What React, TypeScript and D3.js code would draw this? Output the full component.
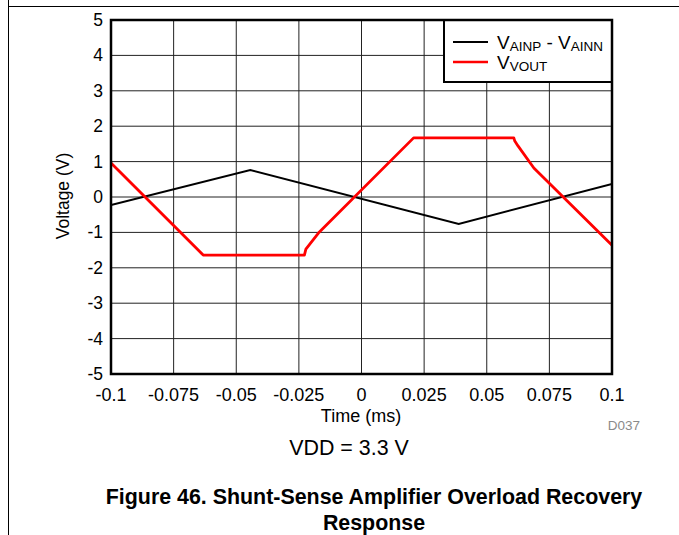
import React from "react";
import * as d3 from "d3";

const blackT = [-0.1, -0.0444, 0.0388, 0.1];
const blackV = [-0.23, 0.76, -0.76, 0.37];

const redT = [-0.1, -0.0632, -0.0228, -0.0222, -0.0172, 0.0208, 0.0608, 0.0612, 0.0624, 0.0688, 0.1];
const redV = [0.96, -1.64, -1.64, -1.47, -1.02, 1.67, 1.67, 1.58, 1.45, 0.82, -1.36];

const xTicks = [-0.1, -0.075, -0.05, -0.025, 0, 0.025, 0.05, 0.075, 0.1];
const xTickLabels = ["-0.1", "-0.075", "-0.05", "-0.025", "0", "0.025", "0.05", "0.075", "0.1"];
const yTicks = [-5, -4, -3, -2, -1, 0, 1, 2, 3, 4, 5];

const W = 679, H = 535;
const L = 111, R = 612, T = 20, B = 374;

export default function App() {
  const x = d3.scaleLinear().domain([-0.1, 0.1]).range([L, R]);
  const y = d3.scaleLinear().domain([-5, 5]).range([B, T]);
  const line = d3.line<[number, number]>().x(d => x(d[0])).y(d => y(d[1]));
  const blackPts = blackT.map((t, i) => [t, blackV[i]] as [number, number]);
  const redPts = redT.map((t, i) => [t, redV[i]] as [number, number]);
  const font = "'Liberation Sans', Arial, sans-serif";
  return (
    <svg width={W} height={H} style={{ position: "absolute", left: 0, top: 0 }} fontFamily={font}>
      <rect x={0} y={0} width={W} height={H} fill="#fff" />
      <line x1={8.5} y1={0} x2={8.5} y2={H} stroke="#000" strokeWidth={1} />
      <line x1={8} y1={6.5} x2={W} y2={6.5} stroke="#000" strokeWidth={1} />
      <defs>
        <clipPath id="plot"><rect x={L} y={T} width={R - L} height={B - T} /></clipPath>
      </defs>
      {xTicks.slice(1, -1).map((t, i) => (
        <line key={"gx" + i} x1={x(t)} x2={x(t)} y1={T} y2={B} stroke="#222" strokeWidth={1} />
      ))}
      {yTicks.slice(1, -1).map((v, i) => (
        <line key={"gy" + i} x1={L} x2={R} y1={y(v)} y2={y(v)} stroke="#222" strokeWidth={1} />
      ))}
      {/* legend */}
      <rect x={444} y={T} width={R - 444} height={82 - T} fill="#fff" stroke="#000" strokeWidth={2} />
      <line x1={453} x2={488} y1={42} y2={42} stroke="#000" strokeWidth={2} />
      <line x1={453} x2={488} y1={62} y2={62} stroke="#ff0000" strokeWidth={2.5} />
      <text x={497} y={49} fontSize={19} fill="#000">
        V<tspan fontSize={13.5} dy={2}>AINP</tspan><tspan dy={-2}> - V</tspan><tspan fontSize={13.5} dy={2}>AINN</tspan>
      </text>
      <text x={497} y={69} fontSize={19} fill="#000">
        V<tspan fontSize={13.5} dy={2}>VOUT</tspan>
      </text>
      <g clipPath="url(#plot)">
        <path d={line(blackPts) || ""} fill="none" stroke="#000" strokeWidth={2} />
        <path d={line(redPts) || ""} fill="none" stroke="#ff0000" strokeWidth={2.8} strokeLinejoin="round" />
      </g>
      <rect x={L} y={T} width={R - L} height={B - T} fill="none" stroke="#000" strokeWidth={2.5} />
      {yTicks.map((v, i) => (
        <text key={"yl" + i} x={103} y={y(v) + 6} fontSize={17.5} textAnchor="end" fill="#000">{v}</text>
      ))}
      {xTicks.map((t, i) => (
        <text key={"xl" + i} x={x(t)} y={401} fontSize={18} textAnchor="middle" fill="#000">{xTickLabels[i]}</text>
      ))}
      <text transform={`translate(69,196) rotate(-90)`} fontSize={17.5} textAnchor="middle" fill="#000">Voltage (V)</text>
      <text x={361} y={422} fontSize={18} textAnchor="middle" fill="#000">Time (ms)</text>
      <text x={640} y={430} fontSize={13.5} textAnchor="end" fill="#8a8a8a">D037</text>
      <text x={349} y={455} fontSize={21.4} textAnchor="middle" fill="#000">VDD = 3.3 V</text>
      <text x={374} y={504} fontSize={21.4} fontWeight="bold" textAnchor="middle" fill="#000">Figure 46. Shunt-Sense Amplifier Overload Recovery</text>
      <text x={374} y={530} fontSize={21.4} fontWeight="bold" textAnchor="middle" fill="#000">Response</text>
    </svg>
  );
}
